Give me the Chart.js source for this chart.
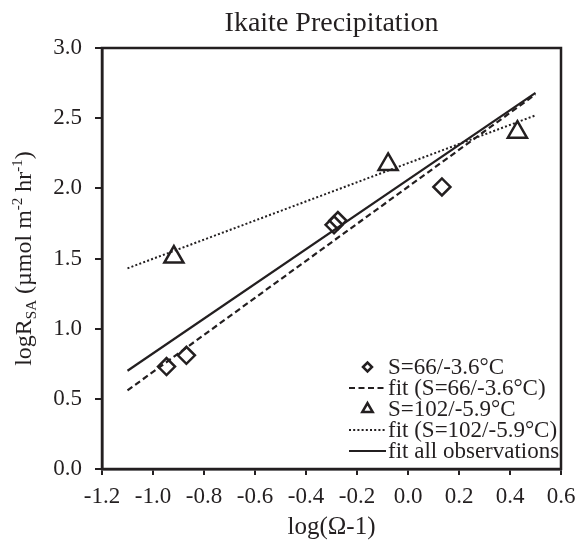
<!DOCTYPE html>
<html>
<head>
<meta charset="utf-8">
<script src="https://cdn.jsdelivr.net/npm/chart.js@4.4.1/dist/chart.umd.min.js"></script>
<style>
  html, body { margin: 0; padding: 0; background: #fff; }
</style>
</head>
<body>
<canvas id="chart" width="579" height="542"></canvas>
<script>
// values
const s66X = [-0.947, -0.869, -0.29, -0.275, 0.133];
const s66Y = [0.73, 0.81, 1.74, 1.77, 2.01];
const s102X = [-0.918, -0.078, 0.429];
const s102Y = [1.51, 2.17, 2.40];
const fitX = [-1.1, 0.5];
const fit66Y = [0.56, 2.67];
const fit102Y = [1.43, 2.52];
const fitAllY = [0.70, 2.68];

const xTickLabels = ['-1.2', '-1.0', '-0.8', '-0.6', '-0.4', '-0.2', '0.0', '0.2', '0.4', '0.6'];
const yTickLabels = ['0.0', '0.5', '1.0', '1.5', '2.0', '2.5', '3.0'];
const seriesLabels = ['S=66/-3.6°C', 'fit (S=66/-3.6°C)', 'S=102/-5.9°C', 'fit (S=102/-5.9°C)', 'fit all observations'];
const chartTitle = 'Ikaite Precipitation';
const xTitle = 'log(Ω-1)';

const INK = '#231f20';
const FONT = 'Liberation Serif';

const toPoints = (xs, ys) => xs.map((x, i) => ({ x, y: ys[i] }));

// y title with sub/superscripts
const yTitleParts = [
    { text: 'logR', size: 24, dy: 0 },
    { text: 'SA', size: 15, dy: 5 },
    { text: ' (µmol m', size: 24, dy: 0 },
    { text: '-2', size: 15, dy: -9 },
    { text: ' hr', size: 24, dy: 0 },
    { text: '-1', size: 15, dy: -9 },
    { text: ')', size: 24, dy: 0 },
];

const decor = {
    id: 'decor',
    afterDraw(chart) {
        const { ctx, chartArea: a } = chart;
        ctx.save();

        // box
        ctx.strokeStyle = INK;
        ctx.lineWidth = 2.5;
        ctx.strokeRect(a.left, a.top, a.right - a.left, a.bottom - a.top);

        // title
        ctx.fillStyle = INK;
        ctx.font = '28px "' + FONT + '"';
        ctx.textAlign = 'center';
        ctx.textBaseline = 'alphabetic';
        ctx.fillText(chartTitle, (a.left + a.right) / 2, 31);

        // y axis title
        ctx.save();
        ctx.translate(31, (a.top + a.bottom) / 2);
        ctx.rotate(-Math.PI / 2);
        ctx.textAlign = 'left';
        let total = 0;
        yTitleParts.forEach(p => {
            ctx.font = p.size + 'px "' + FONT + '"';
            total += ctx.measureText(p.text).width;
        });
        let cx = -total / 2;
        yTitleParts.forEach(p => {
            ctx.font = p.size + 'px "' + FONT + '"';
            ctx.fillText(p.text, cx, p.dy);
            cx += ctx.measureText(p.text).width;
        });
        ctx.restore();

        // legend
        const ds = chart.data.datasets;
        const rowGap = 21;
        ds.forEach((d, i) => {
            const y = a.bottom - 18 - (ds.length - 1 - i) * rowGap;
            const x0 = a.right - 212;
            const x1 = a.right - 175;
            ctx.strokeStyle = INK;
            if (d.showLine) {
                ctx.lineWidth = d.borderWidth;
                ctx.setLineDash(d.borderDash || []);
                ctx.beginPath();
                ctx.moveTo(x0, y);
                ctx.lineTo(x1, y);
                ctx.stroke();
                ctx.setLineDash([]);
            } else {
                ctx.fillStyle = 'rgba(0,0,0,0)';
                ctx.lineWidth = 2.5;
                Chart.helpers.drawPoint(ctx, {
                    pointStyle: d.pointStyle,
                    radius: d.pointStyle === 'triangle' ? 6 : 4.5,
                    borderWidth: 2.5,
                    rotation: 0,
                }, (x0 + x1) / 2, y);
            }
            ctx.fillStyle = INK;
            ctx.font = '23px "' + FONT + '"';
            ctx.textAlign = 'left';
            ctx.textBaseline = 'middle';
            ctx.fillText(d.label, a.right - 173, y + 1);
        });

        ctx.restore();
    },
};

new Chart(document.getElementById('chart').getContext('2d'), {
    type: 'scatter',
    data: {
        datasets: [
            {
                label: seriesLabels[0],
                data: toPoints(s66X, s66Y),
                pointStyle: 'rectRot',
                pointRadius: 8.5,
                pointBorderWidth: 2.5,
                borderColor: INK,
                backgroundColor: 'rgba(0,0,0,0)',
            },
            {
                label: seriesLabels[1],
                data: toPoints(fitX, fit66Y),
                showLine: true,
                pointRadius: 0,
                borderColor: INK,
                borderWidth: 2.2,
                borderDash: [6, 3.5],
            },
            {
                label: seriesLabels[2],
                data: toPoints(s102X, s102Y),
                pointStyle: 'triangle',
                pointRadius: 11,
                pointBorderWidth: 2.5,
                borderColor: INK,
                backgroundColor: 'rgba(0,0,0,0)',
            },
            {
                label: seriesLabels[3],
                data: toPoints(fitX, fit102Y),
                showLine: true,
                pointRadius: 0,
                borderColor: INK,
                borderWidth: 2,
                borderDash: [2, 2.2],
            },
            {
                label: seriesLabels[4],
                data: toPoints(fitX, fitAllY),
                showLine: true,
                pointRadius: 0,
                borderColor: INK,
                borderWidth: 2.2,
            },
        ],
    },
    options: {
        responsive: false,
        animation: false,
        devicePixelRatio: 1,
        layout: { padding: { top: 48, right: 18, bottom: 0, left: 0 } },
        plugins: {
            legend: { display: false },
            tooltip: { enabled: false },
        },
        scales: {
            x: {
                type: 'linear',
                min: -1.2,
                max: 0.6,
                afterFit: s => {
                    s.height = 73;
                    s.paddingLeft = 0;
                    s.paddingRight = 0;
                },
                ticks: {
                    stepSize: 0.2,
                    padding: 8,
                    color: INK,
                    maxRotation: 0,
                    autoSkip: false,
                    font: { family: FONT, size: 23 },
                    callback: (v, i) => xTickLabels[i],
                },
                grid: { drawOnChartArea: false, drawTicks: true, tickLength: 6, color: INK, lineWidth: 2 },
                border: { display: true, color: INK, width: 2.5 },
                title: {
                    display: true,
                    text: xTitle,
                    color: INK,
                    font: { family: FONT, size: 25 },
                    padding: { top: 0, bottom: 0 },
                },
            },
            y: {
                type: 'linear',
                min: 0,
                max: 3,
                afterFit: s => { s.width = 102; },
                ticks: {
                    stepSize: 0.5,
                    padding: 13,
                    color: INK,
                    font: { family: FONT, size: 23 },
                    callback: (v, i) => yTickLabels[i],
                },
                grid: { drawOnChartArea: false, drawTicks: true, tickLength: 7, color: INK, lineWidth: 2 },
                border: { display: true, color: INK, width: 2.5 },
            },
        },
    },
    plugins: [decor],
});
</script>
</body>
</html>
